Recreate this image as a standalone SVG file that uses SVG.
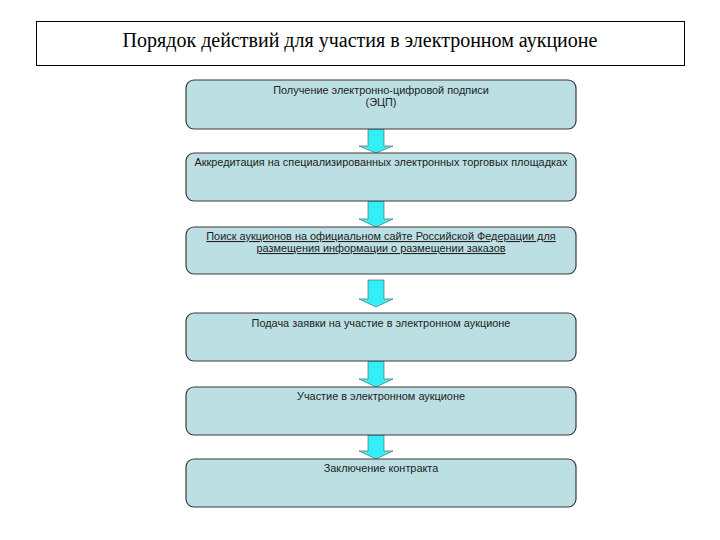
<svg xmlns="http://www.w3.org/2000/svg" width="720" height="540" viewBox="0 0 720 540">
<defs>
<style>
.title{font-family:"Liberation Serif","Times New Roman",serif;font-size:20px;fill:#000}
.box{fill:#bbdfe2;stroke:#3a3a3a;stroke-width:1.2}
.lbl{font-family:"Liberation Sans",Arial,sans-serif;font-size:10.9px;fill:#222;text-anchor:middle}
.arr{fill:#33eef5;stroke:#555;stroke-width:0.6}
</style>
</defs>
<rect width="720" height="540" fill="#fff"/>
<g id="title">
<rect x="36.5" y="21.5" width="648" height="44" fill="#fff" stroke="#000" stroke-width="1"/>
<text class="title" x="360" y="47" text-anchor="middle">Порядок действий для участия в электронном аукционе</text>
</g>
<g id="connectors">
<path class="arr" d="M368,129 H384 V146 H393 L376,153 L359,146 H368 Z"/>
<path class="arr" d="M368,201 H384 V219 H393 L376,227 L359,219 H368 Z"/>
<path class="arr" d="M368,280 H384 V299 H393 L376,307 L359,299 H368 Z"/>
<path class="arr" d="M368,361 H384 V379 H393 L376,387 L359,379 H368 Z"/>
<path class="arr" d="M368,435 H384 V451 H393 L376,459 L359,451 H368 Z"/>
</g>
<g id="n1">
<rect class="box" x="186" y="80" width="390" height="49" rx="8"/>
<text class="lbl" x="381" y="94">Получение электронно-цифровой подписи</text>
<text class="lbl" x="381" y="106">(ЭЦП)</text>
</g>
<g id="n2">
<rect class="box" x="186" y="153" width="390" height="48" rx="8"/>
<text class="lbl" x="381" y="166">Аккредитация на специализированных электронных торговых площадках</text>
</g>
<g id="n3">
<rect class="box" x="186" y="227" width="390" height="47" rx="8"/>
<text class="lbl" x="381" y="240" text-decoration="underline">Поиск аукционов на официальном сайте Российской Федерации для</text>
<text class="lbl" x="381" y="252" text-decoration="underline">размещения информации о размещении заказов</text>
</g>
<g id="n4">
<rect class="box" x="186" y="313" width="390" height="48" rx="8"/>
<text class="lbl" x="381" y="327">Подача заявки на участие в электронном аукционе</text>
</g>
<g id="n5">
<rect class="box" x="186" y="387" width="390" height="48" rx="8"/>
<text class="lbl" x="381" y="400">Участие в электронном аукционе</text>
</g>
<g id="n6">
<rect class="box" x="186" y="459" width="390" height="48" rx="8"/>
<text class="lbl" x="381" y="472">Заключение контракта</text>
</g>
</svg>
